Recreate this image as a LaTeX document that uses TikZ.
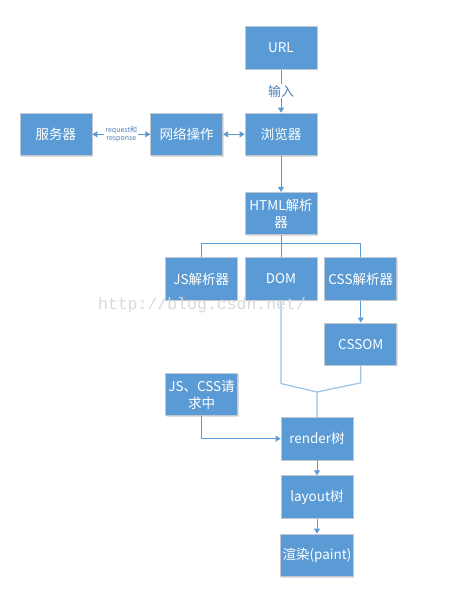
\documentclass[tikz,border=0pt]{standalone}
\usepackage{fontspec}
\setmainfont{Noto Sans CJK SC}
\setmonofont{Liberation Mono}
\usepackage{tikz}
\usetikzlibrary{arrows.meta,positioning,calc,shadows}
\definecolor{boxblue}{HTML}{5B9BD5}
\definecolor{boxedge}{HTML}{BFC8D2}
\definecolor{mergeblue}{HTML}{9DC3E6}
\definecolor{labelblue}{HTML}{4F7FB8}
\definecolor{markgray}{HTML}{D9D9D9}

\begin{document}
\begin{tikzpicture}[x=1pt,y=-1pt,
  block/.style={draw=boxedge,fill=boxblue,line width=0.8pt,minimum width=72pt,
    minimum height=42.5pt,inner sep=2pt,align=center,text=white,
    font=\fontsize{13.5}{17}\selectfont,
    drop shadow={shadow xshift=1pt,shadow yshift=-1pt,opacity=0.25}},
  link/.style={draw=boxblue,line width=0.9pt},
  arrow/.style={link,-{Triangle[length=5pt,width=6pt]}},
  twoway/.style={link,{Triangle[length=5pt,width=6pt]}-{Triangle[length=5pt,width=6pt]}},
  merge/.style={draw=mergeblue,line width=1.2pt},
  linklabel/.style={fill=white,inner sep=1pt,align=center,text=labelblue}
]
\path[use as bounding box,fill=white] (0,0) rectangle (458,590);
% top row
\node[block] (url) at (281,48) {URL};
\node[block,below=43pt of url] (browser) {浏览器};
\node[block,left=21.5pt of browser] (net) {网络操作};
\node[block,left=58pt of net] (server) {服务器};
% parsers
\node[block,below=36pt of browser] (html) {HTML解析\\器};
\node[block,below=22pt of html] (dom) {DOM};
\node[block,left=7pt of dom] (jsparse) {JS解析器};
\node[block,right=7pt of dom] (cssparse) {CSS解析器};
\node[block,below=22pt of cssparse] (cssom) {CSSOM};
% render chain
\node[block] (jsreq) at (201.5,394.5) {JS、CSS请\\求中};
\coordinate (join) at (317,392);
\node[block,below=25pt of join] (render) {render树};
\node[block,below=15pt of render] (layout) {layout树};
\node[block,below=15pt of layout] (paint) {渲染(paint)};

\draw[arrow] (url) -- node[linklabel,font=\fontsize{13}{15}\selectfont] (input) {输入} (browser);
\draw[twoway] (net) -- (browser);
\draw[twoway] (server) -- node[linklabel,font=\fontsize{7}{8.5}\selectfont] (reqres) {request和\\response} (net);
\draw[arrow] (browser) -- (html);
\coordinate (fork) at ($(html.south)+(0,8)$);
\draw[link] (html.south) -- (dom.north);
\draw[link] (jsparse.north) |- (fork) -| (cssparse.north);
\draw[arrow] (cssparse) -- (cssom);
\draw[merge] (dom.south) -- ($(dom.south)+(0,83)$) -- (join);
\draw[merge] (cssom.south) -- ($(cssom.south)+(0,17)$) -- (join) -- (render.north);
\draw[arrow] (jsreq.south) |- (render.west);
\draw[arrow] (render) -- (layout);
\draw[arrow] (layout) -- (paint);

\node[font=\ttfamily\fontsize{16.5}{17}\selectfont,text=markgray] (watermark) at (202,305) {http://blog.csdn.net/};
\end{tikzpicture}
\end{document}
